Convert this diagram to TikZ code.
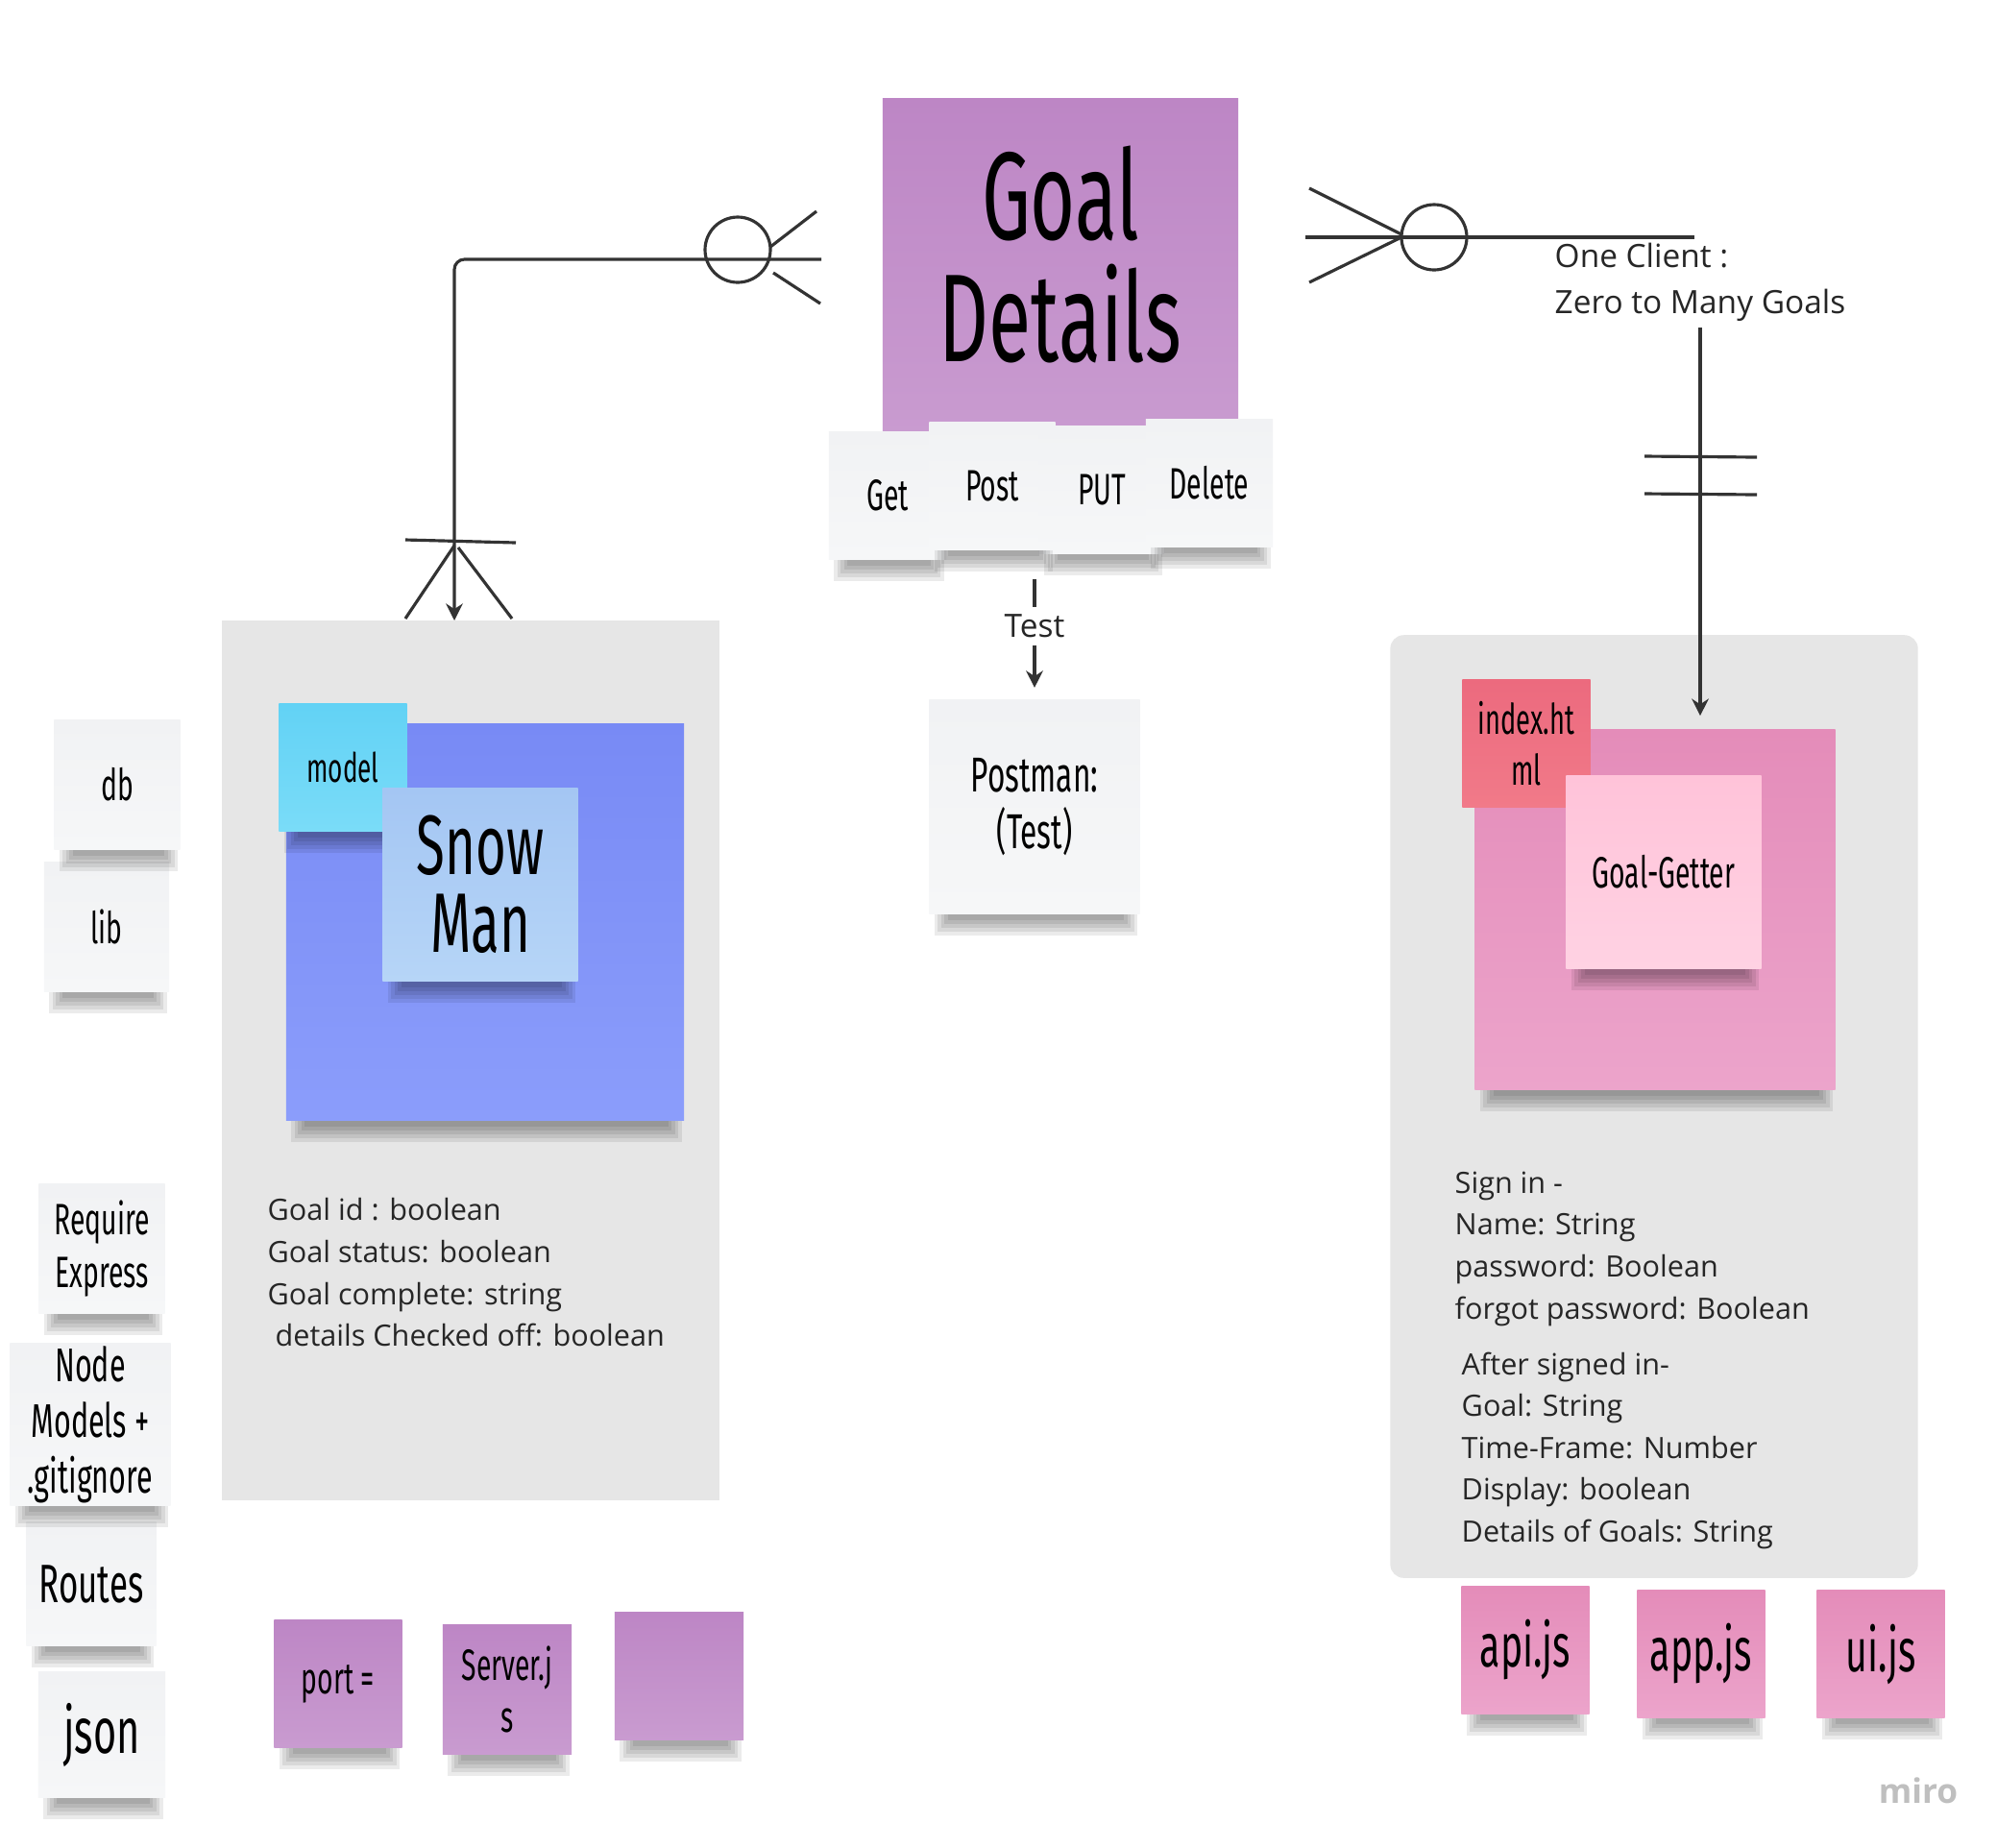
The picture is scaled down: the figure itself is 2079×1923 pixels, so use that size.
\documentclass[tikz,border=0pt]{standalone}
\usepackage{fontspec}
\setmainfont{Open Sans}
\newfontfamily\hand[FakeStretch=0.62]{Fira Sans}
\usetikzlibrary{arrows.meta}

\definecolor{lilacA}{HTML}{BD86C5}
\definecolor{lilacB}{HTML}{C99BD0}
\definecolor{paperA}{HTML}{F1F2F4}
\definecolor{paperB}{HTML}{F6F7F8}
\definecolor{boardgray}{HTML}{E6E6E6}
\definecolor{blueA}{HTML}{788AF5}
\definecolor{blueB}{HTML}{8B9DFB}
\definecolor{cyanA}{HTML}{62D2F5}
\definecolor{cyanB}{HTML}{7ADCF8}
\definecolor{skyA}{HTML}{A4C6F3}
\definecolor{skyB}{HTML}{B6D5F7}
\definecolor{roseA}{HTML}{E48CB9}
\definecolor{roseB}{HTML}{ECA4CB}
\definecolor{redA}{HTML}{EC6A7E}
\definecolor{redB}{HTML}{F17A89}
\definecolor{blushA}{HTML}{FFC3D9}
\definecolor{blushB}{HTML}{FFD2E3}
\definecolor{ink}{HTML}{333333}

\newcommand{\noteshadow}[1]{%
  \foreach \k in {0,...,4}
    \fill[black, opacity=0.08] ([xshift={0.06cm+\k*0.035cm}]#1.south west)
      rectangle ([xshift={-0.03cm-\k*0.035cm}, yshift={-0.22cm+\k*0.04cm}]#1.south east);}

\tikzset{
  note/.style={minimum width=1.33cm, minimum height=1.33cm, inner sep=0pt,
    align=center, text=black, font=\hand\fontsize{13}{15.5}\selectfont},
  paper/.style={note, top color=paperA, bottom color=paperB},
  lilac/.style={note, top color=lilacA, bottom color=lilacB},
  rose/.style={note, top color=roseA, bottom color=roseB},
  board/.style={fill=boardgray, inner sep=0pt},
  rel/.style={draw=ink, line width=0.9pt},
  relarrow/.style={rel, -{Stealth[length=5pt,width=5pt]}},
  body/.style={anchor=north west, inner sep=0pt, align=left, text=black!85,
    font=\fontsize{8.7}{12.4}\selectfont},
}

\begin{document}
\begin{tikzpicture}[x=0.01cm, y=-0.01cm]
  \fill[white] (0,0) rectangle (2079,1923);
  \useasboundingbox (0,0) rectangle (2079,1923);

  \node[board, minimum width=5.18cm, minimum height=9.16cm] (snowframe) at (490,1104) {};
  \node[board, rounded corners=4pt, minimum width=5.49cm, minimum height=9.81cm] (clientframe) at (1722,1152) {};

  \node[lilac, minimum width=3.70cm, minimum height=3.48cm,
        label={[align=center, yshift=0.12cm, font=\hand\fontsize{37}{36}\selectfont]center:Goal\\Details}] (goal) at (1104,277) {};
  \node[paper, minimum width=1.22cm] (get) at (924,516) {Get};
  \node[paper, minimum width=1.31cm] (post) at (1033,506) {Post};
  \node[paper, minimum width=1.30cm] (put) at (1147,510) {PUT};
  \node[paper, minimum width=1.32cm] (delete) at (1259,503) {Delete};
  \foreach \n in {get,post,put,delete} \noteshadow{\n};

  \node[paper, minimum width=2.19cm, minimum height=2.22cm,
        font=\hand\fontsize{14.5}{17}\selectfont] (postman) at (1077,840) {Postman:\\(Test)};
  \noteshadow{postman}

  \node[note, top color=blueA, bottom color=blueB, minimum width=4.14cm, minimum height=4.13cm] (bluesticky) at (505,960) {};
  \noteshadow{bluesticky}
  \node[note, top color=cyanA, bottom color=cyanB, font=\hand\fontsize{12}{14}\selectfont] (model) at (357,799) {model};
  \noteshadow{model}
  \node[note, top color=skyA, bottom color=skyB, minimum width=2.03cm, minimum height=2.00cm,
        font=\hand\fontsize{25}{23}\selectfont] (snowman) at (500,921) {Snow\\Man};
  \noteshadow{snowman}

  \node[body] (goalfields) at (278,1247) {Goal id : boolean\\Goal status: boolean\\Goal complete: string\\
    \hspace*{0.08cm}details Checked off: boolean};

  \node[paper, minimum width=1.31cm, minimum height=1.34cm] (db) at (122,817) {db};
  \node[paper, minimum width=1.30cm, minimum height=1.34cm] (lib) at (111,965) {lib};
  \node[paper, minimum width=1.31cm, minimum height=1.35cm] (require) at (106,1300) {Require\\Express};
  \node[paper, minimum width=1.67cm, minimum height=1.68cm,
        font=\hand\fontsize{14}{16.5}\selectfont] (nodemodels) at (94,1483) {Node\\Models +\\.gitignore};
  \node[paper, minimum width=1.35cm, minimum height=1.29cm,
        font=\hand\fontsize{16}{18}\selectfont] (routes) at (95,1649) {Routes};
  \node[paper, minimum width=1.32cm, minimum height=1.31cm,
        font=\hand\fontsize{19}{21}\selectfont] (json) at (106,1806) {json};
  \foreach \n in {db,lib,require,nodemodels,routes,json} \noteshadow{\n};

  \node[lilac, minimum height=1.32cm] (port) at (352,1753) {port =};
  \node[lilac, minimum width=1.34cm, minimum height=1.34cm] (server) at (528,1759) {Server.j\\s};
  \node[lilac, minimum width=1.34cm, minimum height=1.32cm] (blank) at (707,1745) {};
  \foreach \n in {port,server,blank} \noteshadow{\n};

  \node[note, top color=roseA, bottom color=roseB, minimum width=3.75cm, minimum height=3.74cm] (pinkbig) at (1723,947) {};
  \noteshadow{pinkbig}
  \node[note, top color=redA, bottom color=redB, font=\hand\fontsize{12.5}{15}\selectfont] (index) at (1589,774) {index.ht\\ml};
  \node[note, top color=blushA, bottom color=blushB, minimum width=2.03cm, minimum height=2.00cm] (getter) at (1732,908) {Goal-Getter};
  \noteshadow{getter}

  \node[body] (signin) at (1514,1219) {Sign in -\\Name: String\\password: Boolean\\forgot password: Boolean};
  \node[body] (signedin) at (1521,1407) {After signed in-\\Goal: String\\Time-Frame: Number\\Display: boolean\\Details of Goals: String};

  \node[rose, font=\hand\fontsize{18}{20}\selectfont] (api) at (1588,1718) {api.js};
  \node[rose, font=\hand\fontsize{18}{20}\selectfont] (app) at (1771,1722) {app.js};
  \node[rose, font=\hand\fontsize{18}{20}\selectfont] (ui) at (1958,1722) {ui.js};
  \foreach \n in {api,app,ui} \noteshadow{\n};

  \coordinate (goalfoot) at (855,270);
  \coordinate (snowin) at (473,646);
  \draw[relarrow, rounded corners=3pt] (goalfoot) -| (snowin);
  \draw[rel] (768,260) circle[radius=34];
  \draw[rel] (802,257) -- (850,220) (805,284) -- (854,316);
  \draw[rel] (422,562) -- (537,565) (473,568) -- (422,644) (477,570) -- (533,644);

  \node[anchor=north west, inner sep=0pt, align=left, text=black!85,
        font=\fontsize{9.5}{13.9}\selectfont] (card) at (1618,252) {One Client :\\Zero to Many Goals};
  \coordinate (goalside) at (1359,247);
  \coordinate (cardend) at (1764,247);
  \coordinate (cardfoot) at (1770,341);
  \draw[rel] (goalside) -- (cardend);
  \draw[rel] (1493,247) circle[radius=34];
  \draw[rel] (1363,196) -- (1459,244) (1363,294) -- (1459,247);
  \draw[relarrow, shorten >=4pt] (cardfoot) -- (cardfoot |- pinkbig.north);
  \draw[rel] (1712,475) -- (1829,476) (1712,514) -- (1829,515);

  \coordinate (testtop) at (1077,603);
  \node[inner sep=2pt, text=black!85, font=\fontsize{9.5}{12}\selectfont] (test) at (1077,652) {Test};
  \draw[rel] (testtop) -- (test.north);
  \draw[relarrow, shorten >=3.5pt] (test.south) -- (postman.north);

  \node[text=black!25, font=\bfseries\fontsize{10}{12}\selectfont] (miro) at (1997,1864) {miro};
\end{tikzpicture}
\end{document}
